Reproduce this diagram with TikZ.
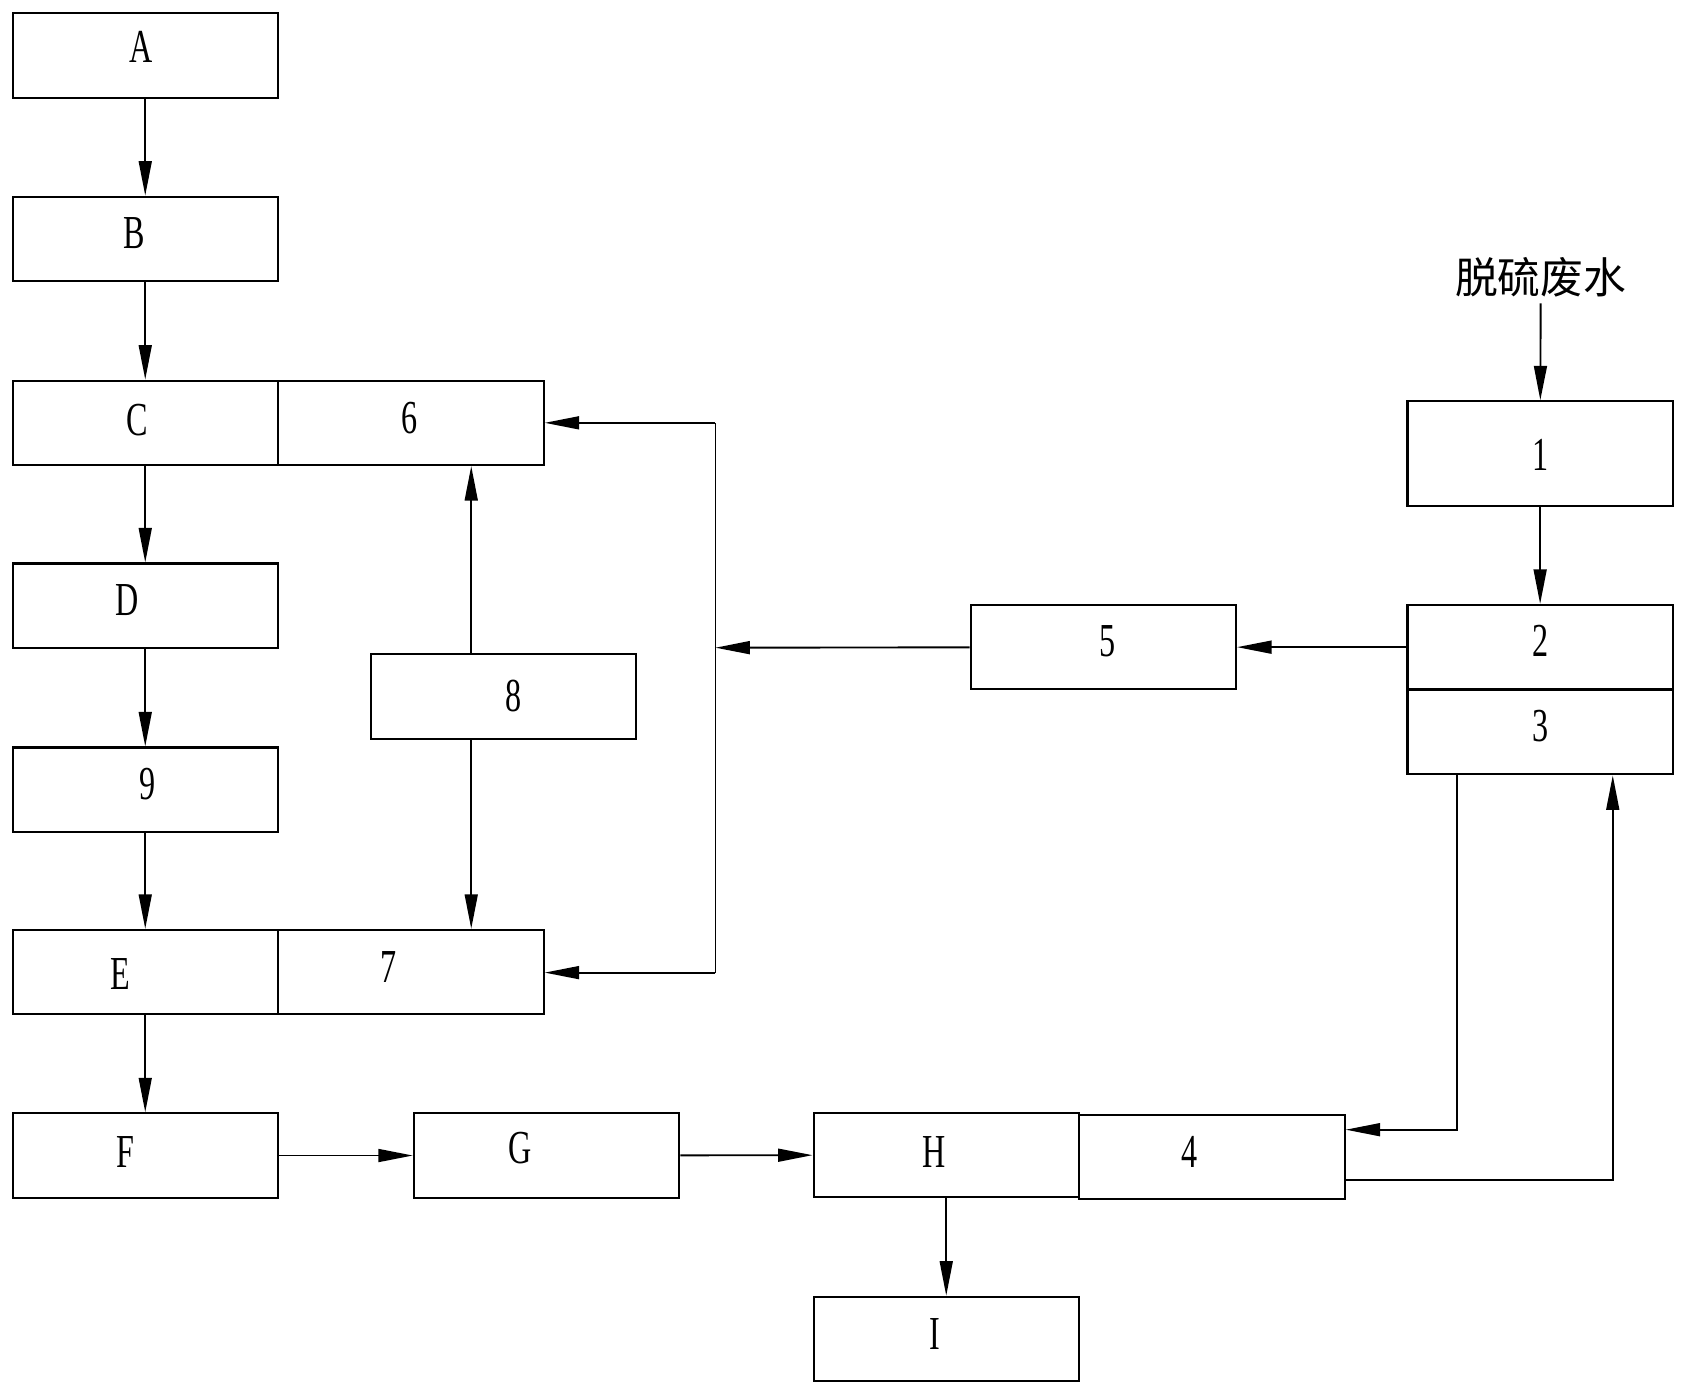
\documentclass[tikz,border=0pt]{standalone}
\usepackage{fontspec}
\setmainfont{Liberation Serif}[FakeStretch=0.68]
\newfontfamily\cjk{Noto Sans CJK SC}
\usetikzlibrary{arrows.meta}
\begin{document}
\begin{tikzpicture}[x=0.01cm,y=-0.01cm,
  box/.style={draw, line width=0.55pt, rectangle, inner sep=0pt, minimum width=2.465cm, minimum height=0.785cm},
  lbl/.style={inner sep=0pt, font=\fontsize{12.5}{14}\selectfont},
  arr/.style={line width=0.5pt, -{Triangle[length=0.32cm,width=0.12cm]}},
  ln/.style={line width=0.5pt}]
\useasboundingbox (0,0) rectangle (1568,1296.6);
% boxes
\node[box] (A) at (135,51.5) {};
\node[box] (B) at (135,222) {};
\node[box] (C) at (135,393) {};
\node[box] (n6) at (382,393) {};
\node[box] (D) at (135,563) {};
\node[box] (n9) at (135,734) {};
\node[box] (E) at (135,903.5) {};
\node[box] (n7) at (382,903.5) {};
\node[box] (F) at (135,1074) {};
\node[box] (G) at (508,1074) {};
\node[box] (H) at (879.5,1073.5) {};
\node[box] (n4) at (1126.5,1075.5) {};
\node[box] (I) at (879.5,1244.5) {};
\node[box] (n8) at (468,647.5) {};
\node[box] (n5) at (1025.5,601.5) {};
\node[box, minimum height=0.97cm] (n1) at (1431.5,421.5) {};
\node[box] (n2) at (1431.5,601.5) {};
\node[box] (n3) at (1431.5,680.5) {};
% labels
\node[lbl] (tA) at (131,44) {A};
\node[lbl] (tB) at (125,217) {B};
\node[lbl] (tC) at (128,390) {C};
\node[lbl] (t6) at (381,389) {6};
\node[lbl] (tD) at (118,558) {D};
\node[lbl] (t9) at (137,729) {9};
\node[lbl] (tE) at (112,905) {E};
\node[lbl] (t7) at (361,899) {7};
\node[lbl] (tF) at (117,1071) {F};
\node[lbl] (tG) at (483,1067) {G};
\node[lbl] (tH) at (868,1071) {H};
\node[lbl] (t4) at (1106,1071) {4};
\node[lbl] (tI) at (869,1240) {I};
\node[lbl] (t8) at (477,647) {8};
\node[lbl] (t5) at (1029,596) {5};
\node[lbl] (t1) at (1432,423) {1};
\node[lbl] (t2) at (1432,596) {2};
\node[lbl] (t3) at (1432,675) {3};
\node[inner sep=0pt, font=\cjk\fontsize{11.3}{13}\selectfont] (src) at (1432,258) {脱硫废水};
% coordinates
\coordinate (s0) at (1432,282);
\coordinate (j) at (665,602);
\coordinate (j6) at (665,393);
\coordinate (j7) at (665,904);
\coordinate (k1) at (1354,1050);
\coordinate (k2) at (1499,1097);
\coordinate (m8) at (438,647.5);
% connectors
\draw[arr] (A) -- (B);
\draw[arr] (B) -- (C);
\draw[arr] (C) -- (D);
\draw[arr] (D) -- (n9);
\draw[arr] (n9) -- (E);
\draw[arr] (E) -- (F);
\draw[arr] (F) -- (G);
\draw[arr] (G) -- (H);
\draw[arr] (H) -- (I);
\draw[arr] (n8.north -| m8) -- (n6.south -| m8);
\draw[arr] (n8.south -| m8) -- (n7.north -| m8);
\draw[arr] (n2) -- (n5);
\draw[arr] (n5) -- (j);
\draw[ln] (j6) -- (j7);
\draw[arr] (j6) -- (n6.east |- j6);
\draw[arr] (j7) -- (n7.east |- j7);
\draw[arr] (s0) -- (n1);
\draw[arr] (n1) -- (n2);
\draw[arr] (n3.south -| k1) -- (k1) -- (n4.east |- k1);
\draw[arr] (n4.east |- k2) -- (k2) -- (n3.south -| k2);
\end{tikzpicture}
\end{document}
